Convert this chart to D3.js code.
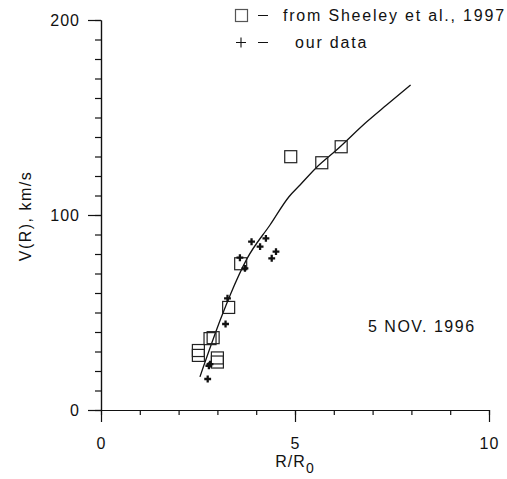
<!DOCTYPE html>
<html>
<head>
    <meta charset="UTF-8">
    <title>V(R) 5 Nov 1996</title>
    <style>
        body { margin: 0; background: #fff; }
        text { font-family: 'Liberation Sans', Arial, sans-serif; fill: #111; }
        .axis path, .axis line { stroke: #111; stroke-width: 1.2; }
        .axis text { font-size: 16px; letter-spacing: 1px; }
    </style>
</head>
<body>
    <div id="app"></div>

    <script src="https://d3js.org/d3.v7.min.js"></script>
    <script>
        // squares: from Sheeley et al., 1997
        let sheeleyR = [2.51, 2.51, 2.81, 2.89, 3.0, 3.0, 3.29, 3.60, 4.89, 5.69, 6.19]
        let sheeleyV = [30.5, 28, 36.6, 37.1, 26.7, 24.6, 52.6, 75.0, 129.9, 126.8, 135.0]

        // crosses: our data
        let ourR = [2.75, 2.78, 2.81, 3.21, 3.26, 3.58, 3.71, 3.88, 4.10, 4.25, 4.40, 4.51]
        let ourV = [15.9, 22.7, 23.5, 44.1, 57.3, 78.1, 72.6, 86.3, 83.8, 88.0, 77.8, 81.2]

        // fitted curve
        let curveR = [2.55, 3.09, 3.33, 3.76, 4.36, 4.85, 5.13, 5.56, 6.07, 6.85, 7.36, 7.98]
        let curveV = [17, 47, 59, 77.5, 95, 109.5, 115.4, 124.5, 133.3, 147.8, 156.4, 166.7]

        let xMajor = [0, 5, 10]
        let yMajor = [0, 100, 200]

        let W = 507
        let H = 479

        let svg = d3.select('#app').append('svg')
        .attr('width', W)
        .attr('height', H)

        let x = d3.scaleLinear().domain([0, 10]).range([101, 489])
        let y = d3.scaleLinear().domain([0, 200]).range([410, 20])

        // minor ticks
        svg.append('g').attr('class', 'axis')
        .attr('transform', 'translate(0,410)')
        .call(d3.axisBottom(x).tickValues(d3.range(0, 11, 1)).tickSize(5).tickSizeOuter(0).tickFormat(''))
        svg.append('g').attr('class', 'axis')
        .attr('transform', 'translate(101,0)')
        .call(d3.axisLeft(y).tickValues(d3.range(0, 201, 10)).tickSize(6).tickSizeOuter(0).tickFormat(''))

        // major ticks + labels
        svg.append('g').attr('class', 'axis')
        .attr('transform', 'translate(0,410)')
        .call(d3.axisBottom(x).tickValues(xMajor).tickSize(12).tickSizeOuter(0).tickPadding(16))
        svg.append('g').attr('class', 'axis')
        .attr('transform', 'translate(101,0)')
        .call(d3.axisLeft(y).tickValues(yMajor).tickSize(13).tickSizeOuter(0).tickPadding(8))

        // axis titles
        let xt = svg.append('text')
        .attr('x', x(5)).attr('y', 467)
        .attr('text-anchor', 'middle')
        .style('font-size', '16px').style('letter-spacing', '1px')
        xt.append('tspan').text('R/R')
        xt.append('tspan').attr('dy', 6).style('font-size', '14px').text('0')

        svg.append('text')
        .attr('transform', 'translate(31,216) rotate(-90)')
        .attr('text-anchor', 'middle')
        .style('font-size', '16px').style('letter-spacing', '1.5px')
        .text('V(R), km/s')

        // curve
        let line = d3.line()
        .x((d, i) => x(curveR[i]))
        .y((d, i) => y(curveV[i]))
        .curve(d3.curveMonotoneX)

        svg.append('path')
        .attr('d', line(curveR))
        .attr('fill', 'none')
        .attr('stroke', '#111')
        .attr('stroke-width', 1.3)

        // squares
        let sq = 12
        svg.selectAll('rect.sheeley')
        .data(sheeleyR).enter()
        .append('rect').attr('class', 'sheeley')
        .attr('x', (d, i) => x(d) - sq / 2)
        .attr('y', (d, i) => y(sheeleyV[i]) - sq / 2)
        .attr('width', sq).attr('height', sq)
        .attr('fill', 'none')
        .attr('stroke', '#222')
        .attr('stroke-width', 1.2)

        // crosses
        let plus = d3.symbol().type(d3.symbolCross).size(26)
        svg.selectAll('path.our')
        .data(ourR).enter()
        .append('path').attr('class', 'our')
        .attr('d', plus)
        .attr('transform', (d, i) => 'translate(' + x(d) + ',' + y(ourV[i]) + ')')
        .attr('fill', '#111')

        // legend
        let lg = svg.append('g')
        lg.append('rect')
        .attr('x', 235.5).attr('y', 9.5).attr('width', 12).attr('height', 12)
        .attr('fill', 'none').attr('stroke', '#555').attr('stroke-width', 1.2)
        lg.append('path')
        .attr('d', 'M236,42.5H246M241,37.5V47.5')
        .attr('stroke', '#111').attr('stroke-width', 1.1)
        lg.append('path')
        .attr('d', 'M258,15.5H268M258,42.5H268')
        .attr('stroke', '#111').attr('stroke-width', 1.1)
        lg.append('text').attr('x', 283).attr('y', 21)
        .style('font-size', '16px').style('letter-spacing', '1.8px')
        .text('from Sheeley et al., 1997')
        lg.append('text').attr('x', 295).attr('y', 48)
        .style('font-size', '16px').style('letter-spacing', '1.8px')
        .text('our data')

        svg.append('text')
        .attr('x', 368).attr('y', 332)
        .style('font-size', '16px').style('letter-spacing', '1.5px')
        .text('5 NOV. 1996')
    </script>
</body>
</html>
